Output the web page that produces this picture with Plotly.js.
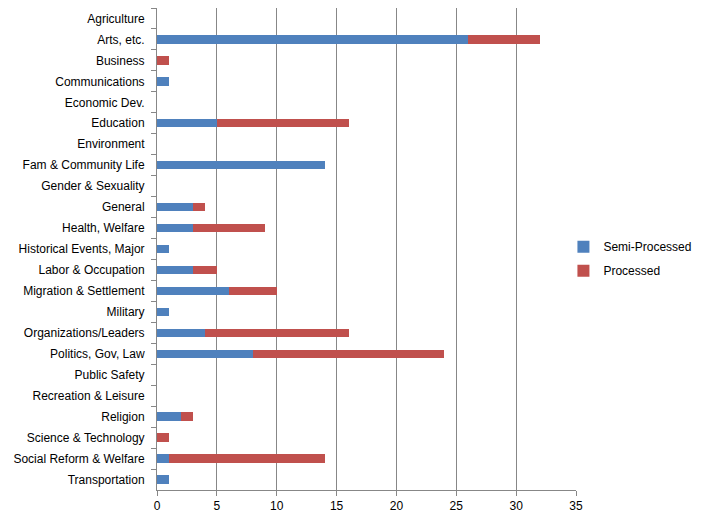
<!DOCTYPE html>
<html><head><meta charset="utf-8">
<script src="https://cdn.plot.ly/plotly-3.0.1.min.js"></script>
<style>html,body{margin:0;padding:0;background:#fff;}</style>
</head><body>
<div id="chart" style="width:701px;height:515px;"></div>
<script>
const categories = ["Agriculture","Arts, etc.","Business","Communications","Economic Dev.","Education","Environment","Fam & Community Life","Gender & Sexuality","General","Health, Welfare","Historical Events, Major","Labor & Occupation","Migration & Settlement","Military","Organizations/Leaders","Politics, Gov, Law","Public Safety","Recreation & Leisure","Religion","Science & Technology","Social Reform & Welfare","Transportation"];
const semiProcessed = [0,26,0,1,0,5,0,14,0,3,3,1,3,6,1,4,8,0,0,2,0,1,1];
const processed = [0,6,1,0,0,11,0,0,0,1,6,0,2,4,0,12,16,0,0,1,1,13,0];
const xTicks = [0,5,10,15,20,25,30,35];

const data = [
  {type:'bar', orientation:'h', name:'Semi-Processed', y:categories, x:semiProcessed,
   marker:{color:'#4F81BD'}, width:0.4, legendgroup:'a'},
  {type:'bar', orientation:'h', name:'Processed', y:categories, x:processed,
   marker:{color:'#C0504D'}, width:0.4, legendgroup:'b'}
];
const layout = {
  barmode:'stack',
  width:701, height:515,
  margin:{l:157, r:125, t:8, b:25, autoexpand:false},
  paper_bgcolor:'#fff', plot_bgcolor:'#fff',
  font:{family:'Liberation Sans, Arial, sans-serif', size:12, color:'#000'},
  xaxis:{range:[0,35], tickvals:xTicks, ticktext:xTicks.map(String), showgrid:true,
    gridcolor:'#878787', gridwidth:1, zeroline:false, showline:true, linecolor:'#878787',
    ticks:'outside', ticklen:5, tickcolor:'#878787', fixedrange:true},
  yaxis:{type:'category', autorange:'reversed', showline:true, linecolor:'#878787',
    ticks:'outside', ticklen:5, tickcolor:'#878787', tickson:'boundaries', showgrid:false,
    ticklabelstandoff:9},
  legend:{x:0.97, y:0.48, xanchor:'left', yanchor:'middle', traceorder:'grouped',
    font:{size:12}, itemwidth:30, tracegroupgap:5, bgcolor:'rgba(0,0,0,0)'},
  showlegend:true
};
Plotly.newPlot('chart', data, layout, {displayModeBar:false, staticPlot:true});
</script>
</body></html>
